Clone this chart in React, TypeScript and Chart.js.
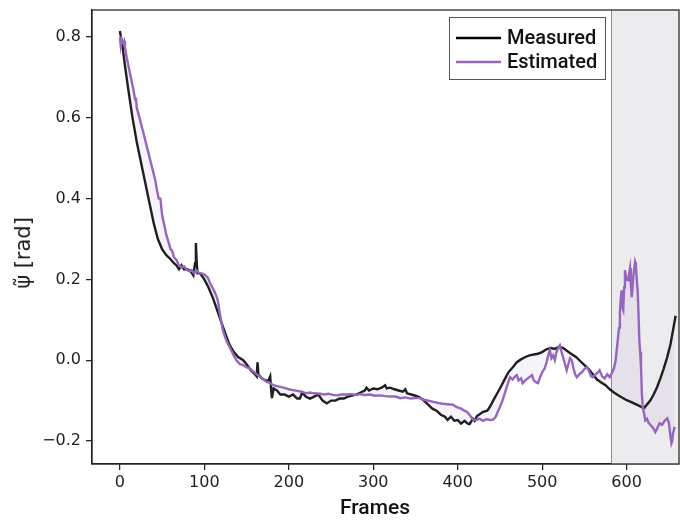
import React, { useEffect, useRef } from "react";
import { Chart, registerables } from "chart.js";

Chart.register(...registerables);

const measuredFrames = [0,3,6,10,15,20,25,30,35,40,45,50,55,60,64,67,70,73,76,80,84,87,89,90,91,92,95,100,105,110,115,120,125,130,135,140,146,150,155,160,162,163,164,168,172,176,178,179,180,182,186,190,195,200,205,210,213,216,220,225,230,235,240,245,250,255,260,265,270,276,280,285,290,292,295,300,305,310,314,316,320,325,330,335,338,340,345,350,355,360,365,370,375,380,385,388,392,396,400,404,408,412,414,418,420,423,426,430,435,438,442,446,450,455,460,465,470,475,480,485,490,495,500,505,510,515,520,525,530,535,540,545,550,555,560,565,570,575,580,585,590,595,600,605,610,615,618,621,624,628,632,636,640,644,648,652,655,658];
const measuredValues = [0.815,0.78,0.73,0.67,0.6,0.54,0.49,0.44,0.39,0.34,0.3,0.275,0.26,0.25,0.24,0.235,0.225,0.235,0.225,0.225,0.22,0.21,0.24,0.29,0.24,0.215,0.215,0.2,0.18,0.155,0.125,0.095,0.065,0.037,0.02,0.008,0.0,-0.01,-0.025,-0.035,-0.04,-0.005,-0.035,-0.045,-0.05,-0.05,-0.04,-0.07,-0.094,-0.07,-0.075,-0.085,-0.085,-0.09,-0.085,-0.095,-0.095,-0.08,-0.09,-0.095,-0.09,-0.085,-0.1,-0.107,-0.1,-0.1,-0.095,-0.095,-0.09,-0.087,-0.085,-0.08,-0.075,-0.068,-0.075,-0.07,-0.072,-0.068,-0.062,-0.07,-0.068,-0.072,-0.075,-0.078,-0.072,-0.082,-0.085,-0.088,-0.092,-0.1,-0.11,-0.12,-0.125,-0.135,-0.14,-0.148,-0.14,-0.15,-0.148,-0.157,-0.15,-0.157,-0.158,-0.145,-0.15,-0.138,-0.134,-0.128,-0.125,-0.116,-0.1,-0.085,-0.07,-0.05,-0.03,-0.018,-0.005,0.002,0.008,0.012,0.014,0.016,0.02,0.027,0.03,0.028,0.033,0.03,0.022,0.015,0.008,-0.002,-0.012,-0.022,-0.035,-0.048,-0.055,-0.062,-0.072,-0.08,-0.087,-0.093,-0.099,-0.103,-0.108,-0.113,-0.116,-0.118,-0.11,-0.1,-0.085,-0.067,-0.045,-0.02,0.007,0.04,0.075,0.11];

const estimatedFrames = [0,1,2,4,5,6,8,10,12,14,16,18,19,20,22,24,27,30,33,36,39,42,44,46,48,50,52,55,58,60,62,64,67,70,73,76,79,82,85,88,91,94,97,100,104,107,110,112,114,116,118,120,122,125,128,130,134,138,142,146,150,154,158,162,166,170,174,178,182,186,190,194,197,200,205,210,215,221,225,230,237,242,247,252,257,262,268,274,280,284,290,296,302,308,314,320,326,332,338,344,350,355,360,365,371,377,383,388,394,399,404,408,411,414,418,422,426,430,434,438,442,445,448,450,453,456,459,462,465,468,470,472,475,477,480,483,486,488,490,493,495,498,500,503,505,507,509,511,513,515,517,519,521,523,525,527,529,531,533,535,537,539,541,544,547,550,553,556,558,560,563,566,568,571,574,577,580,583,585,587,589,591,592,593,594,595,596,597,598,600,602,603,604,605,606,607,608,610,611,612,613,614,615,616,617,618,619,621,622,624,626,628,630,632,634,636,639,642,645,648,650,651,652,653,654,655,657];
const estimatedValues = [0.8,0.78,0.795,0.785,0.79,0.775,0.75,0.73,0.71,0.69,0.67,0.645,0.65,0.625,0.61,0.594,0.57,0.545,0.52,0.495,0.47,0.445,0.42,0.4,0.4,0.36,0.34,0.31,0.29,0.275,0.27,0.255,0.248,0.235,0.23,0.232,0.225,0.22,0.223,0.215,0.222,0.215,0.215,0.212,0.205,0.19,0.178,0.17,0.16,0.148,0.12,0.095,0.074,0.055,0.04,0.032,0.015,0.0,-0.01,-0.012,-0.018,-0.02,-0.028,-0.035,-0.04,-0.048,-0.054,-0.057,-0.062,-0.064,-0.066,-0.068,-0.07,-0.072,-0.074,-0.076,-0.078,-0.082,-0.08,-0.082,-0.083,-0.085,-0.083,-0.086,-0.087,-0.085,-0.085,-0.084,-0.086,-0.084,-0.086,-0.085,-0.088,-0.087,-0.089,-0.09,-0.09,-0.094,-0.092,-0.095,-0.094,-0.094,-0.098,-0.1,-0.103,-0.106,-0.108,-0.109,-0.11,-0.116,-0.12,-0.125,-0.128,-0.135,-0.147,-0.148,-0.145,-0.15,-0.146,-0.148,-0.147,-0.14,-0.125,-0.116,-0.1,-0.08,-0.06,-0.042,-0.048,-0.04,-0.037,-0.05,-0.045,-0.057,-0.05,-0.045,-0.04,-0.037,-0.05,-0.055,-0.057,-0.04,-0.03,-0.02,-0.007,0.01,0.025,0.005,0.012,0.0,0.02,0.03,0.037,0.02,0.005,-0.01,-0.025,-0.01,0.005,0.0,-0.02,-0.035,-0.042,-0.035,-0.03,-0.022,-0.017,-0.03,-0.04,-0.042,-0.035,-0.03,-0.025,-0.04,-0.045,-0.035,-0.042,-0.03,-0.02,0.0,0.04,0.08,0.12,0.15,0.173,0.13,0.124,0.18,0.223,0.2,0.198,0.215,0.228,0.19,0.156,0.18,0.21,0.243,0.235,0.2,0.173,0.12,0.05,0.02,-0.017,-0.08,-0.116,-0.135,-0.149,-0.145,-0.155,-0.16,-0.165,-0.17,-0.178,-0.17,-0.156,-0.16,-0.15,-0.144,-0.155,-0.173,-0.19,-0.206,-0.2,-0.18,-0.165];

const xTicks = [0, 100, 200, 300, 400, 500, 600];
const yTicks = [-0.2, 0.0, 0.2, 0.4, 0.6, 0.8];
const seriesNames = ["Measured", "Estimated"];
const shadedStart = 582;
const xTitle = "Frames";
const yTitle = "\u03C8\u0303 [rad]";

const BLACK = "#1c1c1c";
const PURPLE = "#9467bd";
const AXIS = "#222222";
const LABEL_FONT = "'Roboto', 'DejaVu Sans', sans-serif";

const decorPlugin = {
  id: "decor",
  beforeDatasetsDraw(chart: any) {
    const { ctx, chartArea, scales } = chart;
    const x0 = scales.x.getPixelForValue(shadedStart);
    ctx.save();
    ctx.fillStyle = "#ececee";
    ctx.fillRect(x0, chartArea.top, chartArea.right - x0, chartArea.bottom - chartArea.top);
    ctx.strokeStyle = "#8c8c8c";
    ctx.lineWidth = 1;
    ctx.beginPath();
    ctx.moveTo(Math.round(x0) + 0.5, chartArea.top);
    ctx.lineTo(Math.round(x0) + 0.5, chartArea.bottom);
    ctx.stroke();
    ctx.restore();
  },
  afterDraw(chart: any) {
    const { ctx, chartArea } = chart;
    ctx.save();
    ctx.strokeStyle = AXIS;
    ctx.lineWidth = 1.25;
    ctx.strokeRect(chartArea.left, chartArea.top, chartArea.right - chartArea.left, chartArea.bottom - chartArea.top);

    const lx = 449, ly = 17, lw = 156, lh = 62;
    ctx.fillStyle = "rgba(255,255,255,0.9)";
    ctx.fillRect(lx, ly, lw, lh);
    ctx.strokeStyle = "#555";
    ctx.lineWidth = 1;
    ctx.strokeRect(lx + 0.5, ly + 0.5, lw, lh);
    const colors = [BLACK, PURPLE];
    const rows = [38, 62];
    ctx.font = `500 20px ${LABEL_FONT}`;
    ctx.textBaseline = "middle";
    ctx.textAlign = "left";
    seriesNames.forEach((name, i) => {
      ctx.strokeStyle = i === 0 ? "#000" : colors[i];
      ctx.lineWidth = 2.5;
      ctx.beginPath();
      ctx.moveTo(456, rows[i]);
      ctx.lineTo(501, rows[i]);
      ctx.stroke();
      ctx.fillStyle = "#111";
      ctx.fillText(name, 507, rows[i] + 1);
    });

    ctx.font = `500 21px ${LABEL_FONT}`;
    ctx.textAlign = "center";
    ctx.textBaseline = "middle";
    ctx.fillStyle = "#111";
    ctx.fillText(xTitle, 375, 509);

    ctx.translate(25, 253);
    ctx.rotate(-Math.PI / 2);
    ctx.font = `21px 'DejaVu Sans', sans-serif`;
    ctx.fillStyle = "#222";
    ctx.fillText(yTitle, 0, 0);
    ctx.restore();
  },
};

export default function App() {
  const ref = useRef<HTMLCanvasElement | null>(null);
  useEffect(() => {
    if (!ref.current) return;
    const measured = measuredFrames.map((f, i) => ({ x: f, y: measuredValues[i] }));
    const estimated = estimatedFrames.map((f, i) => ({ x: f, y: estimatedValues[i] }));
    const chart = new Chart(ref.current, {
      type: "line",
      data: {
        datasets: [
          {
            label: seriesNames[0],
            data: measured,
            borderColor: BLACK,
            borderWidth: 2.4,
            pointRadius: 0,
            tension: 0,
            fill: false,
            order: 1,
          },
          {
            label: seriesNames[1],
            data: estimated,
            borderColor: PURPLE,
            borderWidth: 2.4,
            pointRadius: 0,
            tension: 0,
            fill: { target: 0 },
            backgroundColor: "rgba(148,103,189,0.08)",
            order: 0,
          },
        ],
      },
      options: {
        animation: false,
        responsive: false,
        maintainAspectRatio: false,
        layout: { padding: { top: 10, right: 1, left: 0, bottom: 0 } },
        plugins: {
          legend: { display: false },
          tooltip: { enabled: false },
          filler: { propagate: false },
        },
        scales: {
          x: {
            type: "linear",
            min: -33,
            max: 662,
            afterBuildTicks: (s: any) => {
              s.ticks = xTicks.map((v) => ({ value: v }));
            },
            afterFit: (s: any) => {
              s.height = 56;
              s.paddingLeft = 0;
              s.paddingRight = 0;
            },
            ticks: {
              autoSkip: false,
              maxRotation: 0,
              color: AXIS,
              padding: 3,
              font: { family: "'DejaVu Sans', sans-serif", size: 16 },
              callback: (v: any) => String(v),
            },
            grid: { drawOnChartArea: false, drawTicks: true, tickLength: 6, color: AXIS, lineWidth: 1.25 },
            border: { display: true, color: AXIS, width: 1.25 },
          },
          y: {
            type: "linear",
            min: -0.257,
            max: 0.867,
            afterBuildTicks: (s: any) => {
              s.ticks = yTicks.map((v) => ({ value: v }));
            },
            afterFit: (s: any) => {
              s.width = 92;
              s.paddingTop = 0;
              s.paddingBottom = 0;
            },
            ticks: {
              autoSkip: false,
              color: AXIS,
              padding: 5,
              font: { family: "'DejaVu Sans', sans-serif", size: 16 },
              callback: (v: any) => Number(v).toFixed(1).replace("-", "\u2212"),
            },
            grid: { drawOnChartArea: false, drawTicks: true, tickLength: 6, color: AXIS, lineWidth: 1.25 },
            border: { display: true, color: AXIS, width: 1.25 },
          },
        },
      },
      plugins: [decorPlugin],
    });
    return () => chart.destroy();
  }, []);
  return (
    <div style={{ position: "fixed", left: 0, top: 0, width: 680, height: 520, background: "#fff" }}>
      <canvas ref={ref} width={680} height={520} style={{ width: 680, height: 520, display: "block" }} />
    </div>
  );
}
